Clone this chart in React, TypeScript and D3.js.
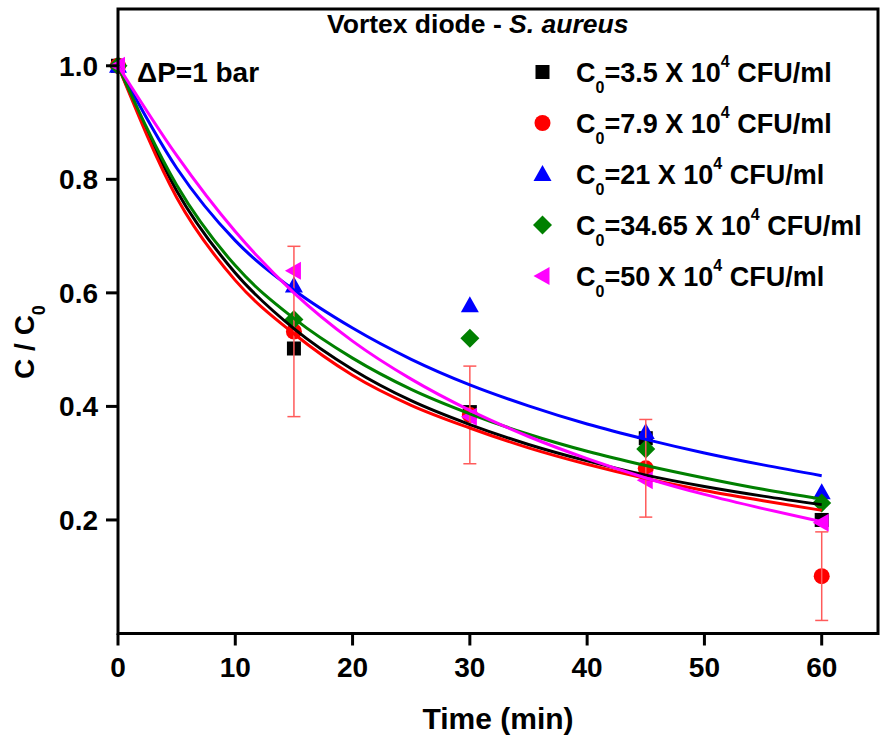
import React from "react";
import * as d3 from "d3";

// ---- data ----
const times = [0, 15, 30, 45, 60];
const blackPts = [1.0, 0.502, 0.39, 0.344, 0.2];
const redPts = [1.0, 0.532, 0.385, 0.291, 0.101];
const bluePts = [1.0, 0.613, 0.578, 0.355, 0.249];
const greenPts = [1.0, 0.553, 0.52, 0.325, 0.23];
const magentaPts = [1.0, 0.639, 0.382, 0.27, 0.195];
const redErr = [0, 0.15, 0.086, 0.086, 0.078];

const fitTimes = [0, 5, 10, 15, 20, 25, 30, 35, 40, 45, 50, 55, 60];
const blackFit = [1.0, 0.78, 0.635, 0.537, 0.465, 0.41, 0.368, 0.333, 0.304, 0.279, 0.259, 0.242, 0.227];
const redFit = [1.0, 0.768, 0.622, 0.528, 0.455, 0.402, 0.362, 0.327, 0.298, 0.273, 0.252, 0.234, 0.217];
const blueFit = [1.0, 0.82, 0.692, 0.605, 0.538, 0.483, 0.438, 0.401, 0.369, 0.342, 0.318, 0.297, 0.278];
const greenFit = [1.0, 0.79, 0.648, 0.555, 0.485, 0.43, 0.387, 0.351, 0.321, 0.296, 0.274, 0.254, 0.237];
const magentaFit = [1.0, 0.842, 0.708, 0.6, 0.515, 0.448, 0.393, 0.347, 0.308, 0.274, 0.245, 0.22, 0.197];

const xTicks = [0, 10, 20, 30, 40, 50, 60];
const yTicks = [0.2, 0.4, 0.6, 0.8, 1.0];

const seriesNames = ["3.5", "7.9", "21", "34.65", "50"];
const seriesColors = ["#000000", "#ff0000", "#0000ff", "#008000", "#ff00ff"];
const seriesShapes = ["square", "circle", "triangle", "diamond", "left"];

const FONT = "'Liberation Sans', Arial, sans-serif";

function Marker({ shape, x, y, color }: { shape: string; x: number; y: number; color: string }) {
  if (shape === "square") return <rect x={x - 7} y={y - 7} width={14} height={14} fill={color} />;
  if (shape === "circle") return <circle cx={x} cy={y} r={8} fill={color} />;
  if (shape === "triangle")
    return <path d={`M${x},${y - 9} L${x + 9},${y + 7} L${x - 9},${y + 7} Z`} fill={color} />;
  if (shape === "diamond")
    return <path d={`M${x},${y - 9.5} L${x + 9.5},${y} L${x},${y + 9.5} L${x - 9.5},${y} Z`} fill={color} />;
  return <path d={`M${x - 9},${y} L${x + 7},${y - 9} L${x + 7},${y + 9} Z`} fill={color} />;
}

export default function App() {
  const left = 118, right = 878, top = 9, bottom = 633.5;
  const x = d3.scaleLinear().domain([0, 64.8]).range([left, right]);
  const y = d3.scaleLinear().domain([0, 1.1]).range([bottom, top]);

  const pts = [blackPts, redPts, bluePts, greenPts, magentaPts];
  const fits = [blackFit, redFit, blueFit, greenFit, magentaFit];

  const line = d3
    .line<number>()
    .x((_, i) => x(fitTimes[i]))
    .y((d) => y(d))
    .curve(d3.curveMonotoneX);

  return (
    <svg
      width={881}
      height={737}
      style={{ position: "absolute", left: 0, top: 0, background: "#fff" }}
      fontFamily={FONT}
    >
      <rect x={0} y={0} width={881} height={737} fill="#fff" />
      {/* markers */}
      {pts.map((arr, s) =>
        arr.map((v, i) => (
          <Marker key={`m${s}-${i}`} shape={seriesShapes[s]} x={x(times[i])} y={y(v)} color={seriesColors[s]} />
        ))
      )}
      {/* error bars for red series */}
      {redPts.map((v, i) =>
        redErr[i] > 0 ? (
          <g key={`e${i}`} stroke="#ff5a5a" strokeWidth={1.5}>
            <line x1={x(times[i])} x2={x(times[i])} y1={y(v + redErr[i])} y2={y(v - redErr[i])} />
            <line x1={x(times[i]) - 6.5} x2={x(times[i]) + 6.5} y1={y(v + redErr[i])} y2={y(v + redErr[i])} />
            <line x1={x(times[i]) - 6.5} x2={x(times[i]) + 6.5} y1={y(v - redErr[i])} y2={y(v - redErr[i])} />
          </g>
        ) : null
      )}
      {/* fitted curves */}
      {fits.map((arr, s) => (
        <path key={`f${s}`} d={line(arr) || ""} fill="none" stroke={seriesColors[s]} strokeWidth={3} />
      ))}

      {/* frame */}
      <rect x={left} y={top} width={right - left} height={bottom - top} fill="none" stroke="#000" strokeWidth={3} />
      {/* x ticks */}
      {xTicks.map((t) => (
        <g key={`xt${t}`}>
          <line x1={x(t)} x2={x(t)} y1={bottom} y2={bottom + 12} stroke="#000" strokeWidth={3} />
          <text x={x(t)} y={677} textAnchor="middle" fontSize={28} fontWeight="bold">
            {t}
          </text>
        </g>
      ))}
      {/* y ticks */}
      {yTicks.map((t) => (
        <g key={`yt${t}`}>
          <line x1={left - 12} x2={left} y1={y(t)} y2={y(t)} stroke="#000" strokeWidth={3} />
          <text x={98} y={y(t)} dy="0.36em" textAnchor="end" fontSize={28} fontWeight="bold">
            {t.toFixed(1)}
          </text>
        </g>
      ))}

      {/* axis titles */}
      <text x={498} y={729} textAnchor="middle" fontSize={30} fontWeight="bold">
        Time (min)
      </text>
      <text transform="translate(34,342) rotate(-90)" textAnchor="middle" fontSize={28} fontWeight="bold">
        C / C<tspan fontSize={18} dy={11}>0</tspan>
      </text>

      {/* title */}
      <text x={327} y={33} fontSize={26.5} fontWeight="bold">
        Vortex diode - <tspan fontStyle="italic">S. aureus</tspan>
      </text>
      <text x={137} y={82} fontSize={28} fontWeight="bold">
        ΔP=1 bar
      </text>

      {/* legend */}
      {seriesNames.map((n, i) => {
        const cy = 72 + i * 51;
        return (
          <g key={`lg${i}`}>
            <Marker shape={seriesShapes[i]} x={542.5} y={cy} color={seriesColors[i]} />
            <text x={576} y={cy + 10} fontSize={27} fontWeight="bold">
              C<tspan fontSize={16} dy={11}>0</tspan>
              <tspan dy={-11}>={n} X 10</tspan>
              <tspan fontSize={16} dy={-15}>4</tspan>
              <tspan dy={15}> CFU/ml</tspan>
            </text>
          </g>
        );
      })}
    </svg>
  );
}
